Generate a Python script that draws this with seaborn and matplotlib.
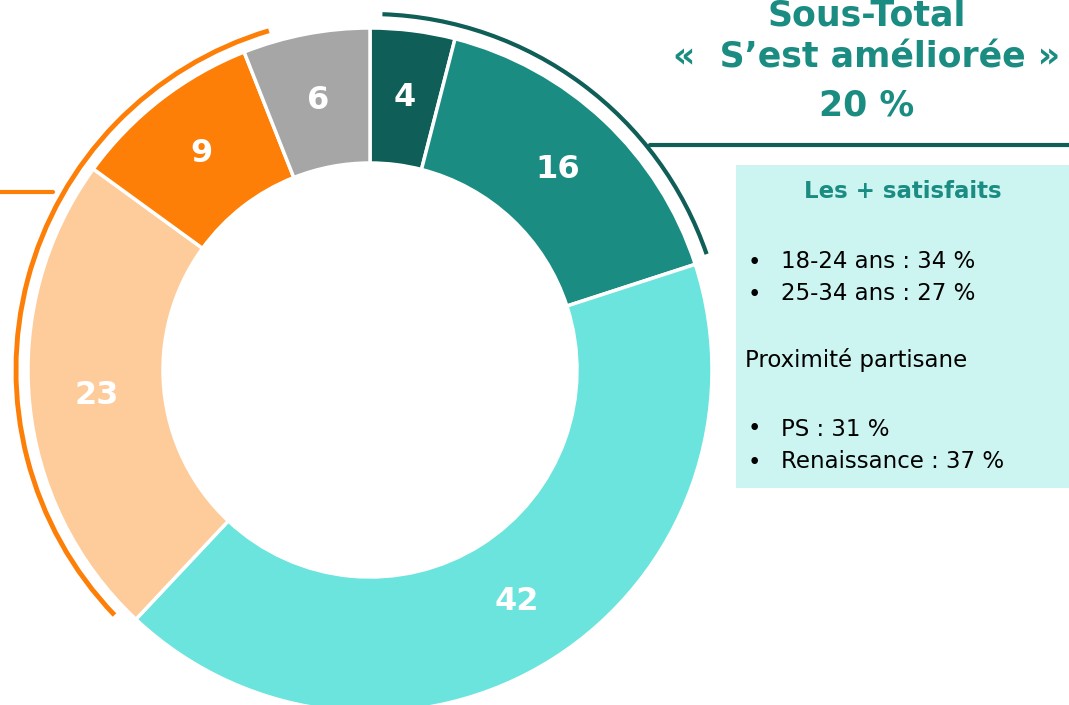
import matplotlib
matplotlib.use("Agg")
import matplotlib.pyplot as plt
from matplotlib.patches import Arc, Rectangle
import seaborn as sns

# donut values, clockwise from the top
categories = ["Nettement améliorée", "Plutôt améliorée", "Ni l'un ni l'autre",
              "Plutôt dégradée", "Nettement dégradée", "Ne sait pas"]
values = [4, 16, 42, 23, 9, 6]
colors = ["#0f5e57", "#1a8c82", "#6ae4dc", "#fecb9b", "#fd7f07", "#a6a6a6"]

subtotal_title = ["Sous-Total", "«  S\u2019est améliorée »", "20 %"]
box_title = "Les + satisfaits"
age_items = ["18-24 ans : 34 %", "25-34 ans : 27 %"]
party_header = "Proximité partisane"
party_items = ["PS : 31 %", "Renaissance : 37 %"]

sns.set_theme(style="white")
plt.rcParams['font.family'] = ['DejaVu Sans']

W, H = 1069, 705
fig = plt.figure(figsize=(W / 100, H / 100), dpi=100)
ax = fig.add_axes([0, 0, 1, 1])

cx, cy = 370, H - 370
R = 342
ring = 135

wedges, texts, autotexts = ax.pie(
    values, colors=colors, startangle=90, counterclock=False,
    center=(cx, cy), radius=R,
    wedgeprops=dict(width=ring, edgecolor="white", linewidth=2.5),
    autopct=lambda p: f"{p:.0f}", pctdistance=(R - ring / 2) / R,
    textprops=dict(color="white", fontsize=23, fontweight="bold"),
)

# bracket arcs computed from the cumulative shares
total = sum(values)
improved = values[0] + values[1]
degraded_start = sum(values[:3]) / total * 360
degraded_end = sum(values[:5]) / total * 360
ang_imp = improved / total * 360

ax.add_patch(Arc((cx, cy), 2 * 356, 2 * 356, theta1=90 - ang_imp + 1, theta2=88,
                 color="#0f5e57", lw=3))
ax.add_patch(Arc((cx, cy), 2 * 354, 2 * 354, theta1=90 - degraded_end - 5,
                 theta2=90 - degraded_start - 3, color="#fd7f07", lw=3.5))
ax.plot([650, W], [H - 145, H - 145], color="#0f5e57", lw=3)
ax.plot([0, 53], [H - 192, H - 192], color="#fd7f07", lw=3)

# subtotal title
tc = "#1a8c82"
for txt, y in zip(subtotal_title, [16, 58, 105]):
    ax.text(867, H - y, txt, ha="center", va="center", color=tc,
            fontsize=25, fontweight="bold")

# info box
ax.add_patch(Rectangle((736, H - 488), 333, 323, facecolor="#ccf5f1",
                       edgecolor="none"))
ax.text(903, H - 192, box_title, ha="center", va="center", color=tc,
        fontsize=16.5, fontweight="bold")
fs = 16.5
for txt, y in zip(age_items, [262, 294]):
    ax.text(748, H - y, "•", ha="left", va="center", fontsize=fs, color="black")
    ax.text(781, H - y, txt, ha="left", va="center", fontsize=fs, color="black")
ax.text(745, H - 360, party_header, ha="left", va="center", fontsize=fs,
        color="black")
for txt, y in zip(party_items, [429, 462]):
    ax.text(748, H - y, "•", ha="left", va="center", fontsize=fs, color="black")
    ax.text(781, H - y, txt, ha="left", va="center", fontsize=fs, color="black")

ax.set_xlim(0, W)
ax.set_ylim(0, H)
ax.set_aspect("equal")
ax.axis("off")

fig.savefig("out.png", dpi=100)
